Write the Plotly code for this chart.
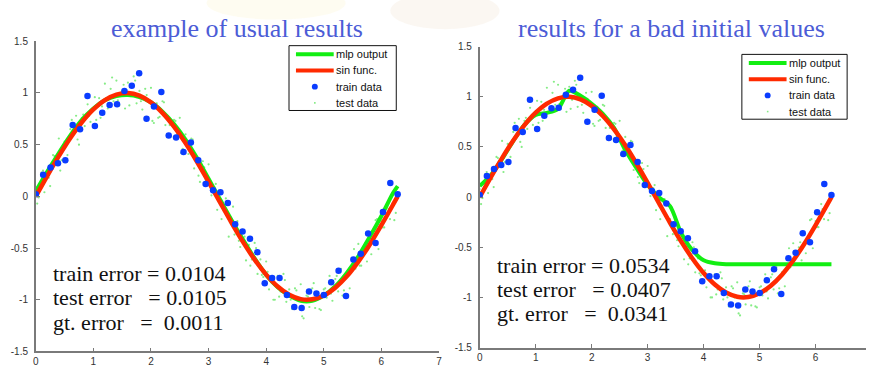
import plotly.graph_objects as go

# ---- data ----------------------------------------------------------------
# training samples (noisy sine, 50 evenly spaced points on [0, 2*pi])
train_x = [0.000, 0.128, 0.256, 0.385, 0.513, 0.641, 0.769, 0.898, 1.026, 1.154,
           1.282, 1.411, 1.539, 1.667, 1.795, 1.923, 2.052, 2.180, 2.308, 2.436,
           2.565, 2.693, 2.821, 2.949, 3.078, 3.206, 3.334, 3.462, 3.590, 3.719,
           3.847, 3.975, 4.103, 4.232, 4.360, 4.488, 4.616, 4.744, 4.873, 5.001,
           5.129, 5.257, 5.386, 5.514, 5.642, 5.770, 5.899, 6.027, 6.155, 6.283]
train_y = [0.02, 0.21, 0.28, 0.32, 0.35, 0.69, 0.65, 0.97, 0.68, 0.81,
           0.885, 0.89, 1.02, 1.07, 1.19, 0.75, 0.87, 1.01, 0.59, 0.57,
           0.43, 0.52, 0.35, 0.12, 0.06, 0.04, -0.065, -0.27, -0.34, -0.41,
           -0.54, -0.84, -0.79, -0.79, -0.955, -1.07, -1.08, -0.92, -0.94, -0.955,
           -0.83, -0.72, -0.965, -0.61, -0.555, -0.36, -0.45, -0.15, 0.13, 0.02]

# test samples
test_x = [0.00, 0.05, 0.10, 0.15, 0.20, 0.25, 0.30, 0.35, 0.40, 0.45,
          0.50, 0.55, 0.60, 0.65, 0.70, 0.75, 0.80, 0.85, 0.90, 0.95,
          1.00, 1.05, 1.10, 1.15, 1.20, 1.25, 1.30, 1.35, 1.40, 1.45,
          1.50, 1.55, 1.60, 1.65, 1.70, 1.75, 1.80, 1.85, 1.90, 1.95,
          2.00, 2.05, 2.10, 2.15, 2.20, 2.25, 2.30, 2.35, 2.40, 2.45,
          2.50, 2.55, 2.60, 2.65, 2.70, 2.75, 2.80, 2.85, 2.90, 2.95,
          3.00, 3.05, 3.10, 3.15, 3.20, 3.25, 3.30, 3.35, 3.40, 3.45,
          3.50, 3.55, 3.60, 3.65, 3.70, 3.75, 3.80, 3.85, 3.90, 3.95,
          4.00, 4.05, 4.10, 4.15, 4.20, 4.25, 4.30, 4.35, 4.40, 4.45,
          4.50, 4.55, 4.60, 4.65, 4.70, 4.75, 4.80, 4.85, 4.90, 4.95,
          5.00, 5.05, 5.10, 5.15, 5.20, 5.25, 5.30, 5.35, 5.40, 5.45,
          5.50, 5.55, 5.60, 5.65, 5.70, 5.75, 5.80, 5.85, 5.90, 5.95,
          6.00, 6.05, 6.10, 6.15, 6.20, 6.25,
          0.025, 0.125, 0.225, 0.325, 0.425, 0.525, 0.625, 0.725, 0.825, 0.925,
          1.025, 1.125, 1.225, 1.325, 1.425, 1.525, 1.625, 1.725, 1.825, 1.925,
          2.025, 2.125, 2.225, 2.325, 2.425, 2.525, 2.625, 2.725, 2.825, 2.925,
          3.025, 3.125, 3.225, 3.325, 3.425, 3.525, 3.625, 3.725, 3.825, 3.925,
          4.025, 4.125, 4.225, 4.325, 4.425, 4.525, 4.625, 4.725, 4.825, 4.925,
          5.025, 5.125, 5.225, 5.325, 5.425, 5.525, 5.625, 5.725, 5.825, 5.925,
          6.025, 6.125, 6.225]
test_y = [0.08, -0.01, 0.23, 0.04, 0.22, 0.10, 0.40, 0.31, 0.56, 0.35,
          0.53, 0.40, 0.65, 0.60, 0.78, 0.50, 0.76, 0.68, 0.89, 0.72,
          0.85, 0.74, 0.95, 0.87, 1.09, 0.85, 1.04, 0.92, 1.12, 0.88,
          1.02, 0.85, 1.10, 0.97, 1.16, 0.90, 1.02, 0.84, 1.04, 0.92,
          1.05, 0.71, 0.90, 0.77, 0.92, 0.69, 0.76, 0.58, 0.74, 0.60,
          0.76, 0.46, 0.60, 0.41, 0.56, 0.27, 0.35, 0.14, 0.34, 0.16,
          0.31, 0.01, 0.09, -0.13, 0.03, -0.12, -0.02, -0.39, -0.22, -0.37,
          -0.24, -0.49, -0.43, -0.62, -0.47, -0.61, -0.45, -0.75, -0.61, -0.78,
          -0.63, -0.90, -0.80, -1.00, -0.77, -0.92, -0.75, -1.02, -0.90, -1.09,
          -0.89, -1.00, -0.85, -1.18, -0.96, -1.07, -0.89, -1.08, -0.97, -1.10,
          -0.90, -0.98, -0.77, -1.01, -0.80, -0.92, -0.70, -0.91, -0.75, -0.89,
          -0.61, -0.70, -0.46, -0.67, -0.50, -0.63, -0.37, -0.43, -0.23, -0.51,
          -0.24, -0.30, -0.07, -0.22, -0.07, -0.16,
          -0.07, 0.25, 0.18, 0.39, 0.25, 0.53, 0.74, 0.55, 0.79, 0.78,
          0.96, 0.76, 0.95, 1.15, 0.93, 1.08, 0.88, 1.12, 0.92, 0.98,
          0.73, 0.76, 0.91, 0.69, 0.73, 0.42, 0.52, 0.55, 0.20, 0.28,
          0.10, 0.12, -0.22, -0.17, -0.10, -0.43, -0.39, -0.67, -0.50, -0.76,
          -0.73, -1.00, -0.97, -0.81, -1.00, -0.91, -1.16, -0.97, -0.84, -1.09,
          -0.89, -0.94, -0.77, -0.96, -0.75, -0.51, -0.67, -0.45, -0.56, -0.22,
          -0.30, -0.12, -0.23]

# curve abscissae
curve_x = [0.0, 0.2, 0.4, 0.6, 0.8, 1.0, 1.2, 1.4, 1.6, 1.8, 2.0, 2.2, 2.4,
           2.6, 2.8, 3.0, 3.2, 3.4, 3.6, 3.8, 4.0, 4.2, 4.4, 4.6, 4.8, 5.0,
           5.2, 5.4, 5.6, 5.8, 6.0, 6.2, 6.283]
# ground-truth sine
sin_y = [0.0, 0.199, 0.389, 0.565, 0.717, 0.841, 0.932, 0.985, 1.0, 0.974,
         0.909, 0.808, 0.675, 0.516, 0.335, 0.141, -0.058, -0.256, -0.443,
         -0.612, -0.757, -0.872, -0.952, -0.994, -0.996, -0.959, -0.883,
         -0.773, -0.631, -0.465, -0.279, -0.083, 0.0]
# network output, good initialisation
mlp_good_y = [0.05, 0.24, 0.42, 0.59, 0.74, 0.85, 0.93, 0.97, 0.98, 0.96,
              0.91, 0.82, 0.70, 0.55, 0.37, 0.17, -0.03, -0.23, -0.42,
              -0.60, -0.76, -0.88, -0.96, -1.01, -1.01, -0.96, -0.87,
              -0.74, -0.58, -0.39, -0.19, 0.03, 0.10]
# network output, bad initialisation
mlp_bad_y = [0.11, 0.22, 0.38, 0.56, 0.72, 0.82, 0.84, 0.88, 1.06, 1.01,
             0.93, 0.83, 0.69, 0.47, 0.29, 0.12, 0.0, -0.09, -0.36,
             -0.53, -0.63, -0.66, -0.67, -0.67, -0.67, -0.67, -0.67,
             -0.67, -0.67, -0.67, -0.67, -0.67, -0.67]

y_ticks = [1.5, 1, 0.5, 0, -0.5, -1, -1.5]
y_tick_text = ["1.5", "1", "0.5", "0", "-0.5", "-1", "-1.5"]
x_ticks = [0, 1, 2, 3, 4, 5, 6, 7]
x_tick_text = ["0", "1", "2", "3", "4", "5", "6", "7"]

legend_labels = ["mlp output", "sin func.", "train data", "test data"]
titles = ["example of usual results", "results for a bad initial values"]
errors_good = ["train error = 0.0104",
               "test error\u00a0\u00a0\u00a0= 0.0105",
               "gt. error\u00a0\u00a0\u00a0=\u00a0\u00a00.0011"]
errors_bad = ["train error = 0.0534",
              "test error\u00a0\u00a0\u00a0= 0.0407",
              "gt. error\u00a0\u00a0\u00a0=\u00a0\u00a00.0341"]

# ---- styling ---------------------------------------------------------------
W, H = 869, 370
GREEN = "#12ee12"
RED = "#ff2a00"
BLUE = "#0a3cff"
TEST = "#86ec86"
AXIS = "#7a7a7a"

fig = go.Figure()


def add_panel(xa, ya, mlp_y):
    fig.add_trace(go.Scatter(
        x=test_x, y=test_y, mode="markers", name=legend_labels[3],
        marker=dict(color=TEST, size=2.2), xaxis=xa, yaxis=ya,
        showlegend=False))
    fig.add_trace(go.Scatter(
        x=curve_x, y=mlp_y, mode="lines", name=legend_labels[0],
        line=dict(color=GREEN, width=4, shape="spline", smoothing=0.8),
        xaxis=xa, yaxis=ya, showlegend=False))
    fig.add_trace(go.Scatter(
        x=curve_x, y=sin_y, mode="lines", name=legend_labels[1],
        line=dict(color=RED, width=4.5, shape="spline", smoothing=0.8),
        xaxis=xa, yaxis=ya, showlegend=False))
    fig.add_trace(go.Scatter(
        x=train_x, y=train_y, mode="markers", name=legend_labels[2],
        marker=dict(color=BLUE, size=6.5), xaxis=xa, yaxis=ya,
        showlegend=False))


add_panel("x", "y", mlp_good_y)
add_panel("x2", "y2", mlp_bad_y)

tick_font = dict(family="Liberation Sans, Arial, sans-serif", size=10, color="#333")
axis_common = dict(showgrid=False, zeroline=False, showline=True,
                   linecolor=AXIS, linewidth=1.6, ticks="inside", ticklen=4,
                   tickcolor=AXIS, tickwidth=1, tickfont=tick_font)

fig.update_layout(
    width=W, height=H,
    margin=dict(l=0, r=0, t=0, b=0),
    paper_bgcolor="white", plot_bgcolor="white",
    showlegend=False,
    xaxis=dict(domain=[33 / W, 439 / W], range=[0, 7], anchor="y",
               tickvals=x_ticks, ticktext=x_tick_text, **axis_common),
    yaxis=dict(domain=[(H - 357) / H, (H - 36.5) / H], range=[-1.5, 1.5],
               anchor="x", tickvals=y_ticks, ticktext=y_tick_text,
               ticklabelstandoff=4, **axis_common),
    xaxis2=dict(domain=[480 / W, 1.0], range=[0, 6.9], anchor="y2",
                tickvals=x_ticks[:7], ticktext=x_tick_text[:7], **axis_common),
    yaxis2=dict(domain=[(H - 353) / H, (H - 42) / H], range=[-1.5, 1.5],
                anchor="x2", tickvals=y_ticks, ticktext=y_tick_text,
                ticklabelstandoff=4, **axis_common),
)


def px(x):
    return x / W


def py(y):
    return (H - y) / H


# faint watermark at the top of the slide
fig.add_shape(type="circle", xref="paper", yref="paper", layer="below",
              x0=px(205), x1=px(345), y0=py(14), y1=py(-20),
              fillcolor="rgba(246,222,120,0.10)", line_width=0)
fig.add_shape(type="circle", xref="paper", yref="paper", layer="below",
              x0=px(390), x1=px(500), y0=py(24), y1=py(-14),
              fillcolor="rgba(205,150,95,0.08)", line_width=0)


def add_legend(left, top, right, bottom):
    """Compact boxed legend in the MATLAB style."""
    fig.add_shape(type="rect", xref="paper", yref="paper",
                  x0=px(left), x1=px(right), y0=py(top), y1=py(bottom),
                  fillcolor="white", line=dict(color="#111", width=1))
    row = (bottom - top) / 4.0
    kx0, kx1 = left + 7, left + 45
    kc = (kx0 + kx1) / 2
    for i, label in enumerate(legend_labels):
        yc = top + row * (i + 0.5) + 0.5
        if i < 2:
            fig.add_shape(type="line", xref="paper", yref="paper",
                          x0=px(kx0), x1=px(kx1), y0=py(yc), y1=py(yc),
                          line=dict(color=[GREEN, RED][i], width=4))
        elif i == 2:
            fig.add_shape(type="circle", xref="paper", yref="paper",
                          x0=px(kc - 3), x1=px(kc + 3),
                          y0=py(yc - 3), y1=py(yc + 3),
                          fillcolor=BLUE, line_width=0)
        else:
            fig.add_shape(type="rect", xref="paper", yref="paper",
                          x0=px(kc - 0.8), x1=px(kc + 0.8),
                          y0=py(yc - 0.8), y1=py(yc + 0.8),
                          fillcolor=TEST, line_width=0)
        fig.add_annotation(text=label, xref="paper", yref="paper",
                           x=px(kx1 + 1), y=py(yc), showarrow=False,
                           xanchor="left", yanchor="middle", borderpad=0,
                           font=dict(family="Liberation Sans, Arial, sans-serif",
                                     size=11, color="#111"))


add_legend(288, 41, 396, 108)
add_legend(744, 50, 850, 117)

title_font = dict(family="Liberation Serif, Times New Roman, serif",
                  size=26, color="#4c5cd6")
fig.add_annotation(text=titles[0], xref="paper", yref="paper",
                   x=px(236), y=py(23), showarrow=False,
                   xanchor="center", yanchor="middle", font=title_font)
fig.add_annotation(text=titles[1], xref="paper", yref="paper",
                   x=px(673), y=py(23), showarrow=False,
                   xanchor="center", yanchor="middle", font=title_font)

err_font = dict(family="Liberation Serif, Times New Roman, serif",
                size=22, color="#111")
for i, line in enumerate(errors_good):
    fig.add_annotation(text=line, xref="paper", yref="paper",
                       x=px(49), y=py(276 + 25.5 * i), showarrow=False,
                       xanchor="left", yanchor="middle", borderpad=0,
                       font=err_font)
for i, line in enumerate(errors_bad):
    fig.add_annotation(text=line, xref="paper", yref="paper",
                       x=px(496), y=py(268 + 25 * i), showarrow=False,
                       xanchor="left", yanchor="middle", borderpad=0,
                       font=err_font)

fig.write_html("out.html")
